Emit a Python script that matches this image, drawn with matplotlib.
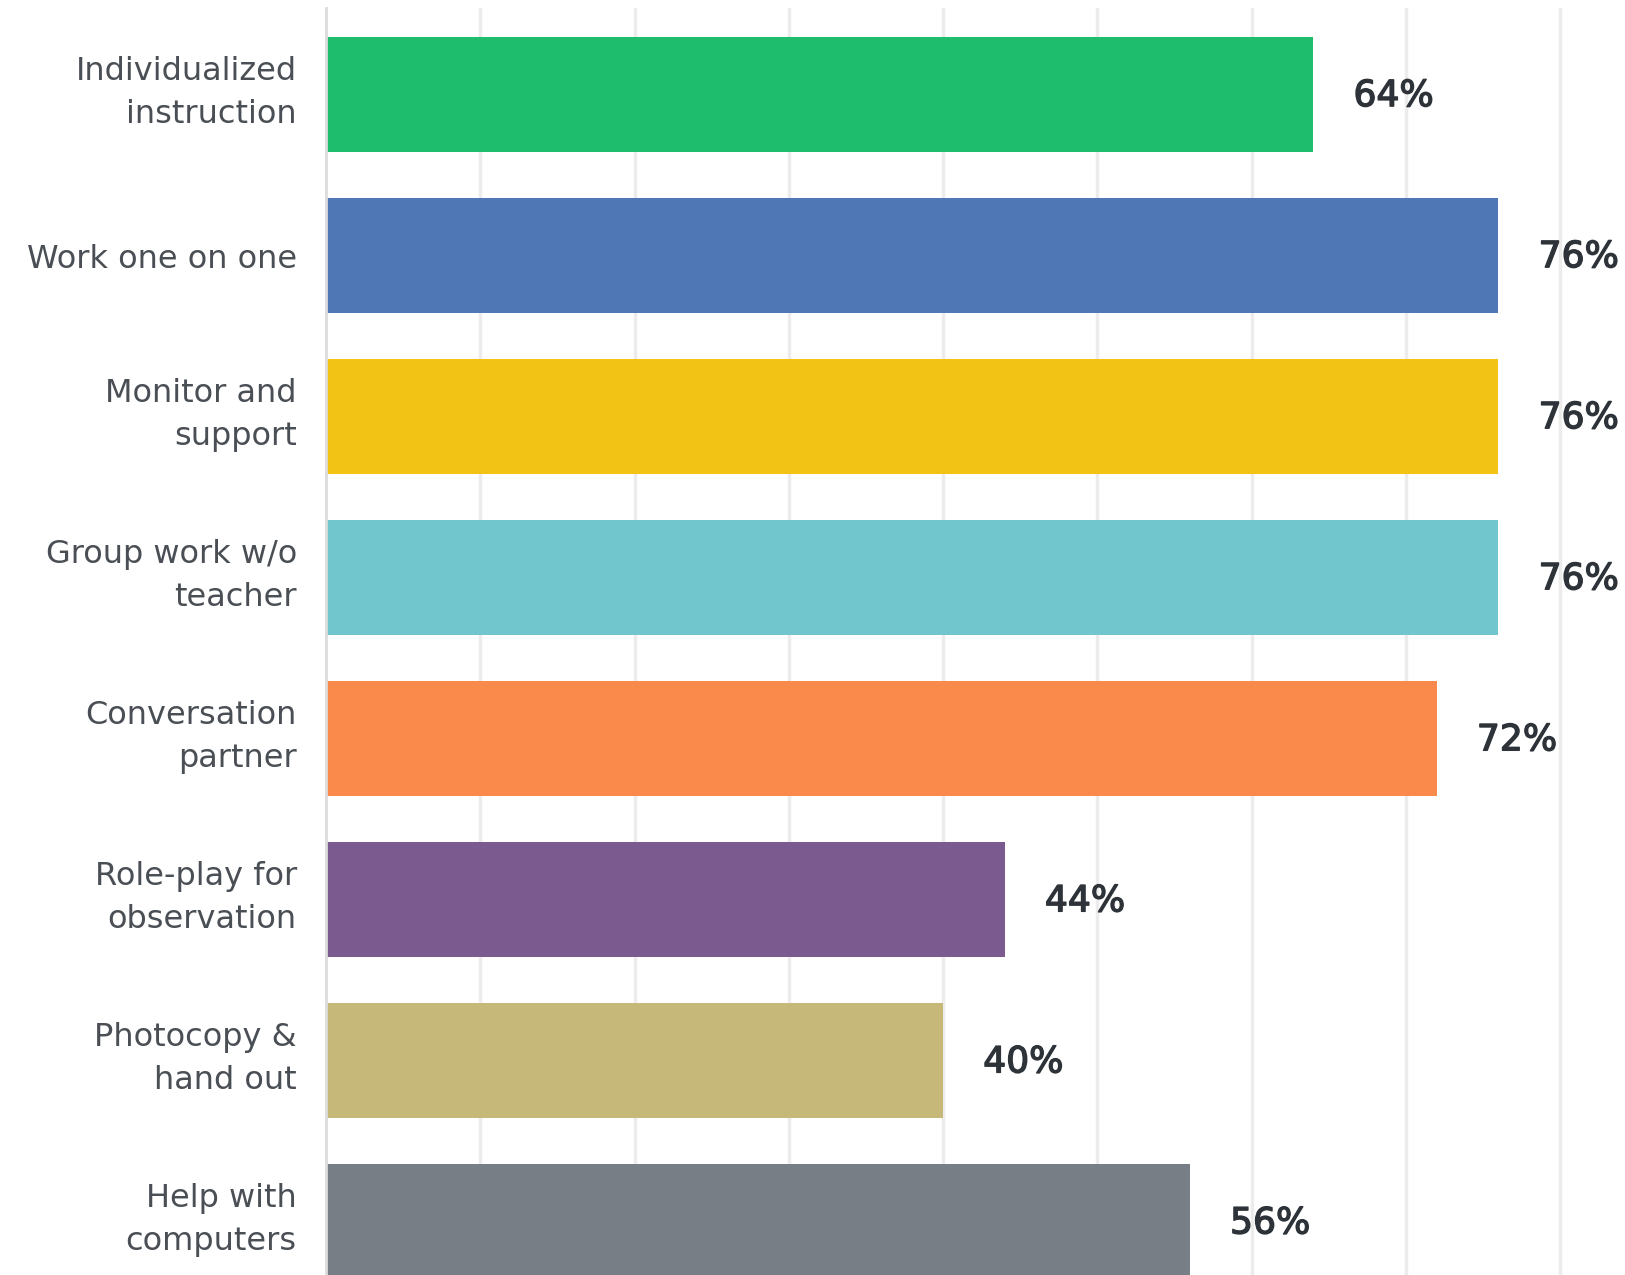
import matplotlib
matplotlib.use('Agg')
import matplotlib.pyplot as plt
import matplotlib.patheffects as pe
from matplotlib.transforms import ScaledTranslation

# Share of respondents per activity
categories = ['Individualized\ninstruction', 'Work one on one', 'Monitor and\nsupport',
              'Group work w/o\nteacher', 'Conversation\npartner', 'Role-play for\nobservation',
              'Photocopy &\nhand out', 'Help with\ncomputers']
values = [64, 76, 76, 76, 72, 44, 40, 56]
colors = ['#1dbd6d', '#5077b5', '#f2c214', '#71c5cc', '#fa8a4c', '#7b5b8f', '#c5b878', '#777e86']
grid_ticks = [10, 20, 30, 40, 50, 60, 70, 80]

plt.rcParams['font.family'] = ['DejaVu Sans']

fig = plt.figure(figsize=(16.25, 12.75), dpi=100)
ax = fig.add_axes([0.2006, 0.0, 0.7994, 0.9937])

ypos = list(range(len(categories)))
ax.barh(ypos, values, height=0.714, color=colors, zorder=2)

# value labels: slightly heavier than regular weight
for y, v in zip(ypos, values):
    ax.text(v + 2.6, y + 0.01, '{}%'.format(v), va='center', ha='left',
            fontsize=26, color='#2d3338',
            path_effects=[pe.withStroke(linewidth=1.0, foreground='#2d3338')])

ax.set_xlim(0, 84.2)
ax.set_ylim(7.33, -0.537)
ax.set_yticks(ypos)
ax.set_yticklabels(categories, fontsize=23, color='#4a4f55', linespacing=1.5)
ax.tick_params(axis='y', length=0, pad=21)
# two-line labels sit a little low; nudge them up
for lab in ax.get_yticklabels():
    if '\n' in lab.get_text():
        lab.set_transform(lab.get_transform() + ScaledTranslation(0, 8 / 72, fig.dpi_scale_trans))
ax.set_xticks(grid_ticks)
ax.tick_params(axis='x', length=0, labelbottom=False)
ax.grid(axis='x', color='#ececec', linewidth=2.5, zorder=0)
ax.grid(axis='y', visible=False)

for side in ['top', 'right', 'bottom']:
    ax.spines[side].set_visible(False)
ax.spines['left'].set_color('#dcdcdc')
ax.spines['left'].set_linewidth(2)

fig.savefig('out.png', dpi=100)
